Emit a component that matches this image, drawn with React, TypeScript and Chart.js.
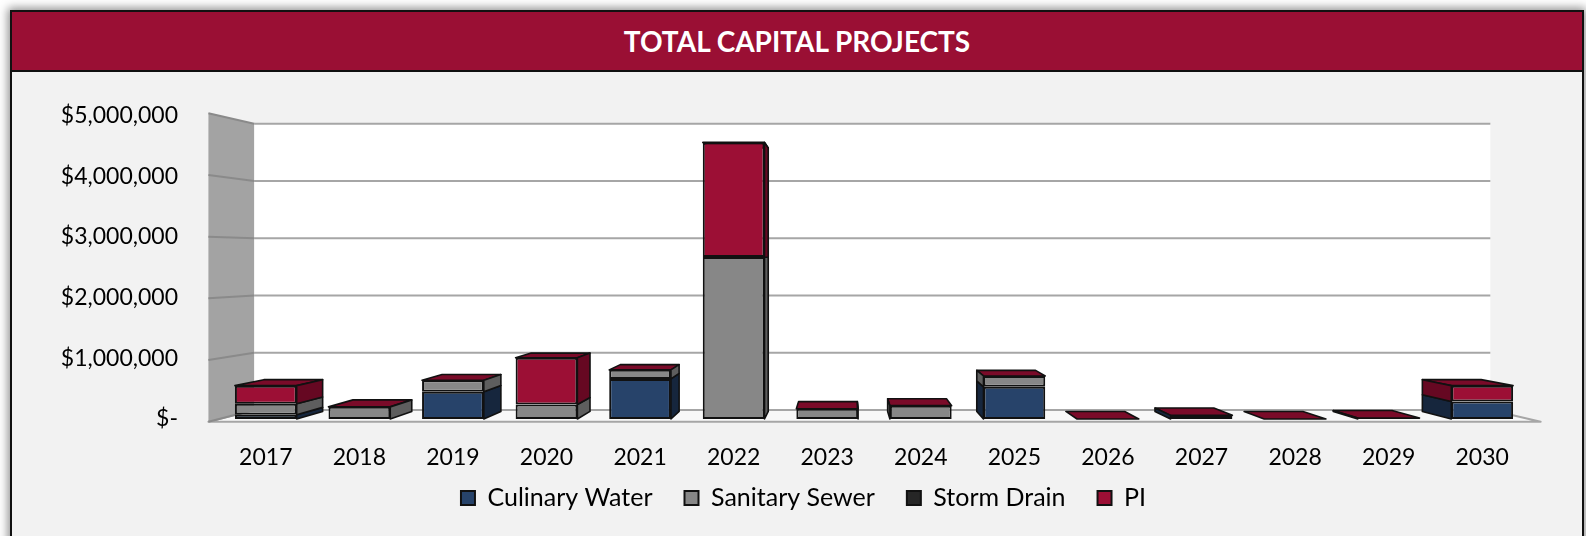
import React, { useEffect, useRef } from 'react';
import { Chart, registerables } from 'chart.js';

Chart.register(...registerables);

const years = ['2017', '2018', '2019', '2020', '2021', '2022', '2023', '2024', '2025', '2026', '2027', '2028', '2029', '2030'];
const culinaryWater = [70000, 0, 450000, 0, 660000, 0, 0, 0, 530000, 0, 60000, 0, 0, 290000];
const sanitarySewer = [180000, 200000, 190000, 240000, 150000, 2670000, 170000, 220000, 180000, 0, 0, 0, 0, 0];
const stormDrain = [0, 0, 0, 0, 0, 0, 0, 0, 0, 0, 0, 0, 15000, 0];
const pi = [300000, 0, 0, 770000, 0, 1890000, 0, 0, 0, 0, 0, 0, 0, 260000];
const yTicks = [0, 1000000, 2000000, 3000000, 4000000, 5000000];
const seriesNames = ['Culinary Water', 'Sanitary Sewer', 'Storm Drain', 'PI'];
const chartTitle = 'TOTAL CAPITAL PROJECTS';

const frontColors = ['#27436A', '#878787', '#262626', '#9C0F35'];
const sideColors = ['#16263D', '#5E5E5E', '#141414', '#660822'];
const topColors = ['#1E3453', '#6E6E6E', '#1C1C1C', '#7A0B29'];

const DEPTH_BAR = 0.0476;
const FRONT_K = 1 / 0.9833;
const BACK_K = 0.9437;

const threeD = {
  id: 'threeD',
  afterLayout(chart: any) {
    const lg = chart.legend;
    if (lg) {
      lg.left += 78;
      lg.top -= 27.5;
      lg.bottom -= 27.5;
    }
  },
  beforeDatasetsDraw(chart: any) {
    const ctx = chart.ctx;
    const a = chart.chartArea;
    const ys = chart.scales.y;
    const vx = a.left + 0.476 * (a.right - a.left);
    const vy = a.top + 0.476 * (a.bottom - a.top);
    const F = (x: number, y: number) => [vx + (x - vx) * FRONT_K, vy + (y - vy) * FRONT_K];
    const W = (x: number, y: number) => [vx + (x - vx) * BACK_K, vy + (y - vy) * BACK_K];
    const B = (x: number, y: number) => [x + DEPTH_BAR * (vx - x), y + DEPTH_BAR * (vy - y)];
    const poly = (pts: number[][], fill: string | null, stroke: string | null, lw: number) => {
      ctx.beginPath();
      ctx.moveTo(pts[0][0], pts[0][1]);
      for (let i = 1; i < pts.length; i++) ctx.lineTo(pts[i][0], pts[i][1]);
      ctx.closePath();
      if (fill) { ctx.fillStyle = fill; ctx.fill(); }
      if (stroke) { ctx.strokeStyle = stroke; ctx.lineWidth = lw; ctx.stroke(); }
    };
    const line = (p: number[], q: number[], color: string, lw: number) => {
      ctx.beginPath();
      ctx.moveTo(p[0], p[1]);
      ctx.lineTo(q[0], q[1]);
      ctx.strokeStyle = color;
      ctx.lineWidth = lw;
      ctx.stroke();
    };
    ctx.save();
    ctx.lineJoin = 'round';
    // floor
    poly([F(a.left, a.bottom), F(a.right, a.bottom), W(a.right, a.bottom), W(a.left, a.bottom)], '#F8F8F8', '#A6A6A6', 2);
    // back wall
    poly([W(a.left, a.top), W(a.right, a.top), W(a.right, a.bottom), W(a.left, a.bottom)], '#FFFFFF', null, 0);
    yTicks.forEach((v) => {
      const y = ys.getPixelForValue(v);
      line(W(a.left, y), W(a.right, y), '#A6A6A6', 2);
    });
    // side wall
    poly([F(a.left, a.top), W(a.left, a.top), W(a.left, a.bottom), F(a.left, a.bottom)], '#A3A3A3', null, 0);
    yTicks.forEach((v) => {
      const y = ys.getPixelForValue(v);
      line(F(a.left, y), W(a.left, y), '#8A8A8A', 2);
    });
    // bar depth faces
    const metas = chart.data.datasets.map((_: any, i: number) => chart.getDatasetMeta(i));
    for (let j = 0; j < years.length; j++) {
      const segs = metas.map((m: any, i: number) => {
        const p = m.data[j].getProps(['x', 'y', 'base', 'width'], true);
        return { i, x: p.x, w: p.width, top: Math.min(p.y, p.base), bot: Math.max(p.y, p.base) };
      });
      const x = segs[0].x;
      const w = segs[0].w;
      const L = x - w / 2;
      const R = x + w / 2;
      const stackTop = Math.min(...segs.map((s: any) => s.top));
      poly([[L, stackTop], [R, stackTop], B(R, stackTop), B(L, stackTop)], topColors[3], '#111', 1.6);
      const ex = x < vx ? R : L;
      segs.forEach((s: any) => {
        if (s.bot - s.top < 0.5) return;
        poly([[ex, s.top], [ex, s.bot], B(ex, s.bot), B(ex, s.top)], sideColors[s.i], '#111', 1.6);
      });
    }
    ctx.restore();
  },
};

export default function App() {
  const ref = useRef<HTMLCanvasElement>(null);

  useEffect(() => {
    document.body.style.margin = '0';
    const canvas = ref.current;
    if (!canvas) return;
    const seriesData = [culinaryWater, sanitarySewer, stormDrain, pi];
    const chart = new Chart(canvas, {
      type: 'bar',
      data: {
        labels: years,
        datasets: seriesData.map((d, i) => ({
          label: seriesNames[i],
          data: d,
          backgroundColor: frontColors[i],
          borderColor: '#111111',
          borderWidth: 2,
          borderSkipped: false,
          categoryPercentage: 1,
          barPercentage: 0.66,
        })),
      },
      options: {
        responsive: false,
        animation: false,
        devicePixelRatio: 1,
        layout: { padding: { left: 0, right: 57, top: 115.7, bottom: -12 } },
        plugins: {
          title: { display: false },
          tooltip: { enabled: false },
          legend: {
            position: 'bottom',
            labels: {
              boxWidth: 14,
              boxHeight: 14,
              padding: 32,
              color: '#000000',
              font: { family: 'Lato', size: 25 },
            },
          },
        },
        scales: {
          x: {
            stacked: true,
            grid: { display: false },
            border: { display: false },
            ticks: { color: '#000000', font: { family: 'Lato', size: 23 }, padding: 17, maxRotation: 0 },
            afterFit: (s: any) => { s.height = 62; },
          },
          y: {
            stacked: true,
            min: 0,
            max: 5000000,
            grid: { display: false },
            border: { display: false },
            ticks: {
              stepSize: 1000000,
              padding: 33,
              color: '#000000',
              font: { family: 'Lato', size: 23 },
              callback: (v: any) => (Number(v) === 0 ? '$-' : '$' + Number(v).toLocaleString('en-US')),
            },
            afterFit: (s: any) => { s.width = 219; },
          },
        },
      },
      plugins: [threeD],
    });
    return () => chart.destroy();
  }, []);

  return (
    <div style={{ position: 'absolute', left: 0, top: 0, width: 1586, height: 536, overflow: 'hidden', background: '#FFFFFF' }}>
      <div
        style={{
          position: 'absolute',
          left: 10,
          top: 10,
          width: 1574,
          height: 560,
          boxSizing: 'border-box',
          border: '2px solid #111111',
          background: '#F2F2F2',
          boxShadow: '0 0 9px 2px rgba(0,0,0,0.45)',
        }}
      >
        <div
          style={{
            height: 58,
            background: '#9A0F34',
            borderBottom: '2px solid #111111',
            color: '#FFFFFF',
            fontFamily: 'Lato, sans-serif',
            fontWeight: 700,
            fontSize: 28,
            lineHeight: '58px',
            textAlign: 'center',
          }}
        >
          {chartTitle}
        </div>
      </div>
      <canvas ref={ref} width={1586} height={536} style={{ position: 'absolute', left: 0, top: 0 }} />
    </div>
  );
}
